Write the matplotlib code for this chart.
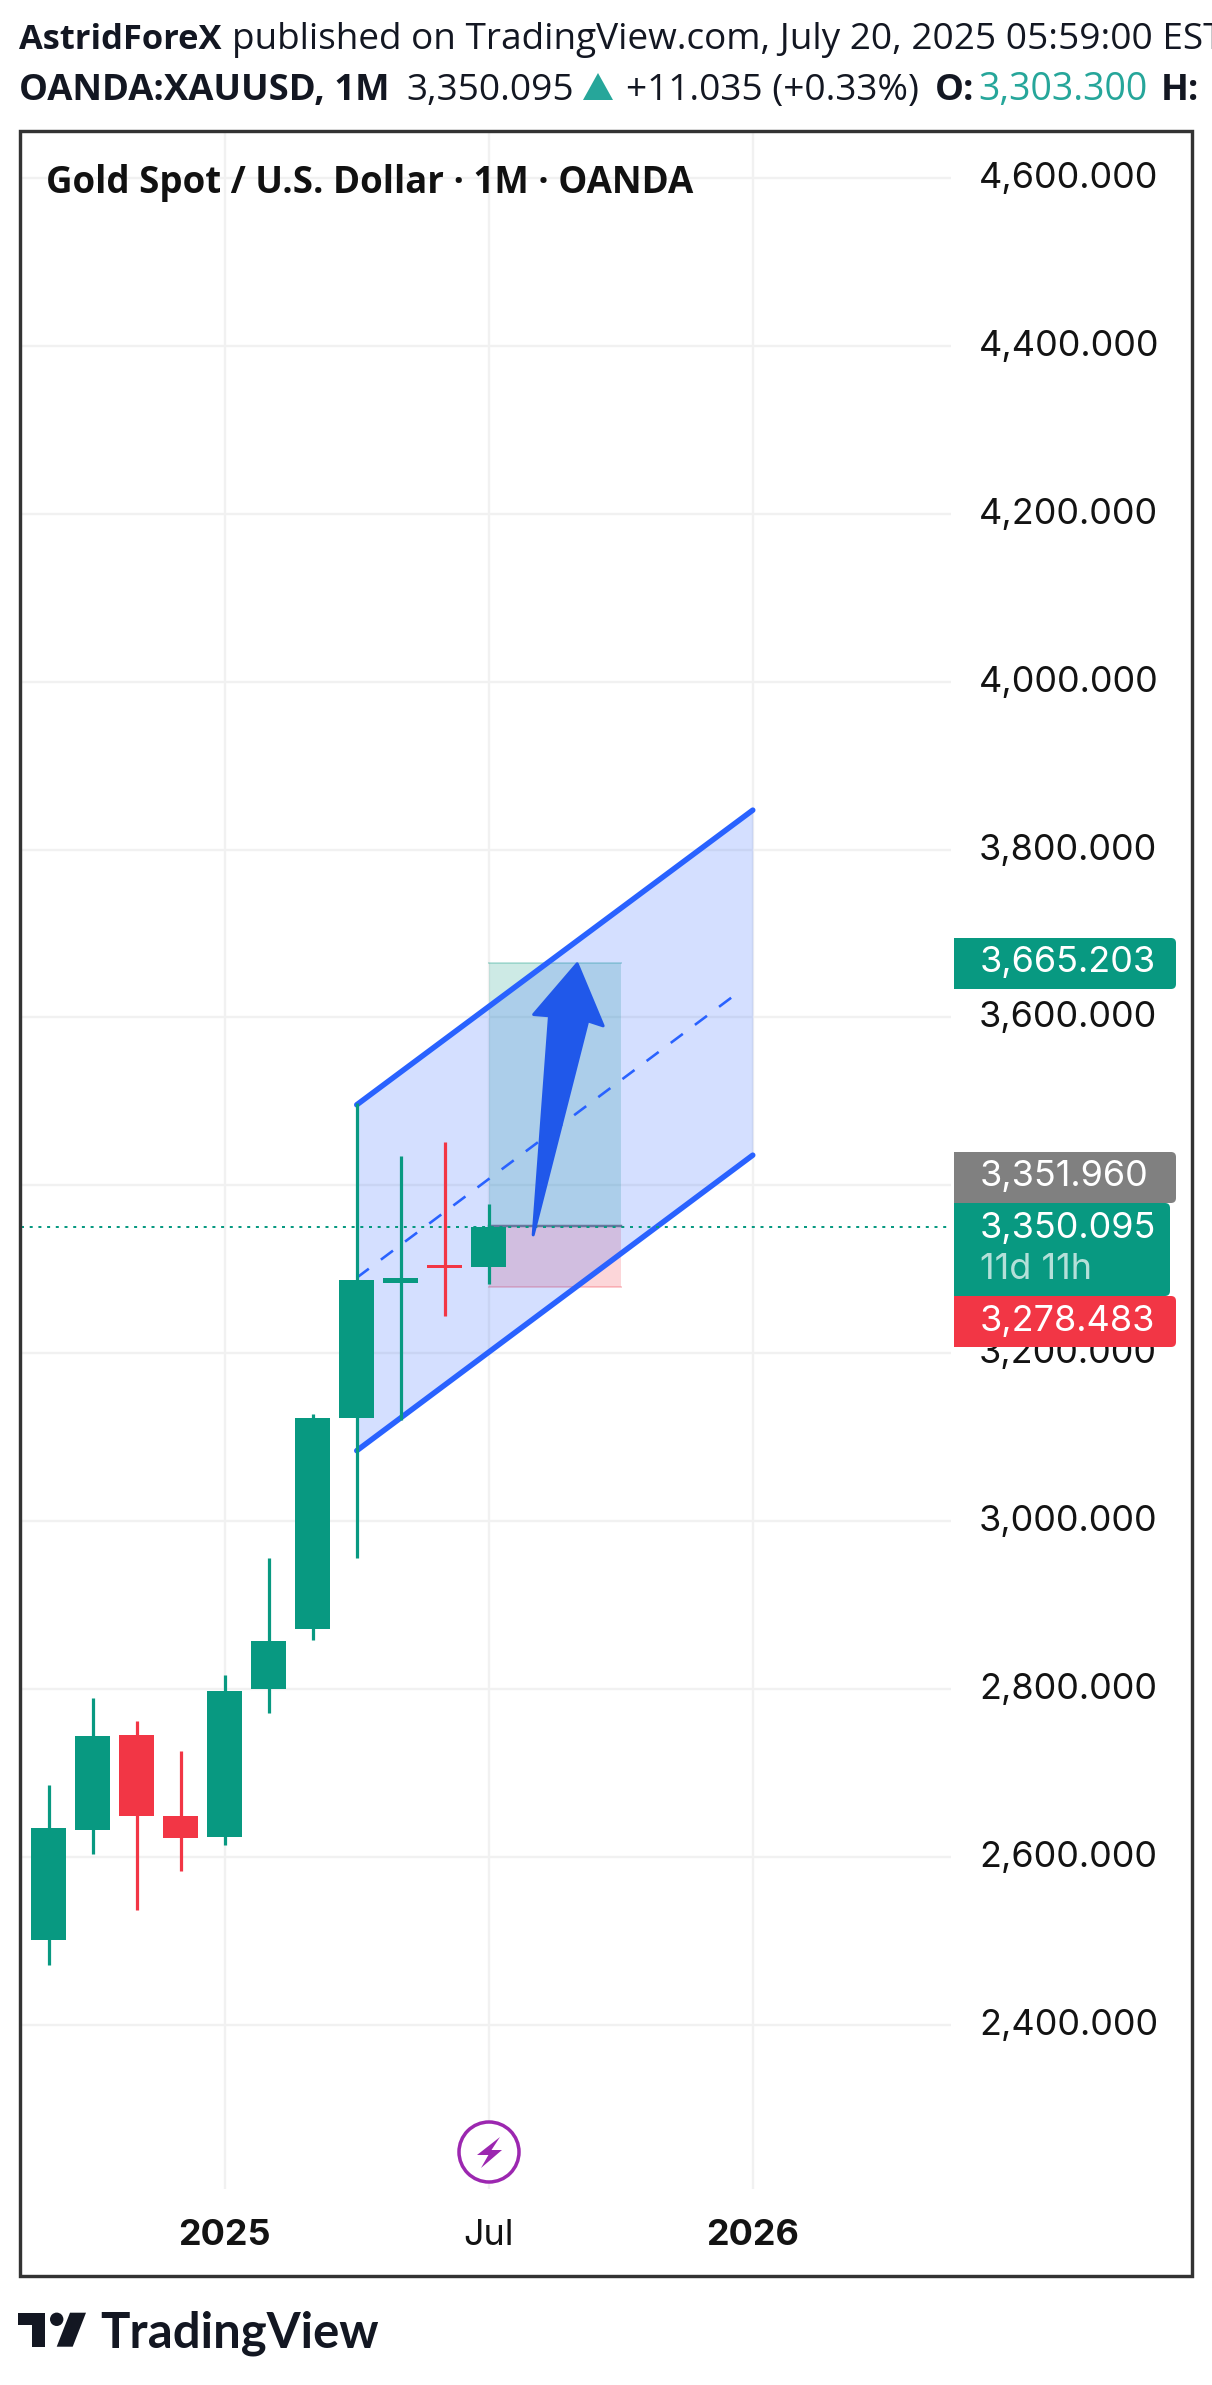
import matplotlib
matplotlib.use("Agg")
import matplotlib.pyplot as plt
from matplotlib.patches import Circle, FancyBboxPatch, Polygon, Rectangle
from matplotlib.transforms import ScaledTranslation

W, H = 1212, 2385
UP = "#089981"
DOWN = "#f23645"
BLUE = "#2962ff"
INK = "#131722"
GRID = "#f1f1f1"
FONT = "Open Sans"

# monthly candles, index 0 = Sep 2024
opens = [2501, 2632, 2745, 2649, 2624, 2800, 2872, 3123.5, 3284, 3305, 3303.3]
highs = [2686, 2789, 2762, 2726, 2817, 2956, 3128, 3498, 3435, 3452, 3378]
lows = [2471, 2604, 2537, 2583, 2614, 2771.5, 2858.5, 2956, 3121, 3244, 3282.5]
closes = [2634.5, 2744, 2649, 2623, 2798, 2857, 3123, 3287, 3290, 3301, 3350.095]

price_ticks = [2400, 2600, 2800, 3000, 3200, 3400, 3600, 3800, 4000, 4200, 4400, 4600]
hidden_ticks = [3400]  # covered by the price tags in the original
time_ticks = [4, 10, 16]
time_labels = ["2025", "Jul", "2026"]

# parallel channel (bar index, price)
channel_x = [7, 16]
channel_upper = [3496, 3847]
channel_lower = [3084, 3436]
mid_x = [7, 15.7]
mid_y = [3290, 3631]

# long position tool
pos_x = [10, 13]
pos_target = 3665.203
pos_entry = 3351.96
pos_stop = 3278.483

# hand drawn arrow
arrow_x = [11.01, 11.38, 11.02, 12.01, 12.6, 12.25]
arrow_y = [3341, 3602, 3603.5, 3664, 3590, 3596]

last_price = 3350.095

fig = plt.figure(figsize=(W / 100, H / 100), dpi=100, facecolor="white")
px = 72 / 100  # one pixel in points

# --- chart pane ---
left, right, top, bottom = 21, 951, 133, 2189
ax = fig.add_axes([left / W, 1 - bottom / H, (right - left) / W, (bottom - top) / H])
ax.set_xlim(-0.63, 20.505)
ax.set_ylim(2204.5, 4653.6)
for s in ax.spines.values():
    s.set_visible(False)
ax.set_axisbelow(True)
ax.grid(True, color=GRID, linewidth=2.3 * px)

ax.set_yticks(price_ticks, ["" if p in hidden_ticks else f"{p:,.3f}" for p in price_ticks])
ax.yaxis.tick_right()
ax.tick_params(axis="y", length=0, pad=28 * px, labelsize=36 * px, labelcolor="#131313")
shift = ScaledTranslation(0, -10 / 100, fig.dpi_scale_trans)
for lab in ax.get_yticklabels():
    lab.set_fontfamily("Inter")
    lab.set_verticalalignment("baseline")
    lab.set_transform(lab.get_transform() + shift)

ax.set_xticks(time_ticks, time_labels)
ax.tick_params(axis="x", length=0, pad=30 * px, labelsize=36 * px, labelcolor="#131313")
for lab, txt in zip(ax.get_xticklabels(), time_labels):
    lab.set_fontfamily("Inter")
    lab.set_fontweight("bold" if txt != "Jul" else "normal")

# position tool
ax.fill_between(pos_x, pos_entry, pos_target, color=UP, alpha=0.2, linewidth=0, zorder=2)
ax.fill_between(pos_x, pos_stop, pos_entry, color=DOWN, alpha=0.2, linewidth=0, zorder=2)
ax.plot(pos_x, [pos_target] * 2, color=UP, alpha=0.25, lw=2 * px, zorder=2)
ax.plot(pos_x, [pos_stop] * 2, color=DOWN, alpha=0.25, lw=2 * px, zorder=2)
ax.plot(pos_x, [pos_entry] * 2, color="#787b86", lw=2.5 * px, zorder=2)

# channel
ax.fill_between(channel_x, channel_lower, channel_upper, color=BLUE, alpha=0.2, linewidth=0, zorder=3)
ax.plot(channel_x, channel_upper, color=BLUE, lw=5.5 * px, solid_capstyle="round", zorder=4)
ax.plot(channel_x, channel_lower, color=BLUE, lw=5.5 * px, solid_capstyle="round", zorder=4)
ax.plot(mid_x, mid_y, color=BLUE, lw=2.6 * px, dashes=(5.8, 5.8), zorder=4)

# candles
for i, (o, h, l, c) in enumerate(zip(opens, highs, lows, closes)):
    col = UP if c >= o else DOWN
    ax.vlines(i, l, h, color=col, lw=3.2 * px, zorder=5)
    ax.bar(i, abs(c - o), bottom=min(o, c), width=35 / 44, color=col, linewidth=0, zorder=5)

ax.axhline(last_price, color=UP, lw=2 * px, dashes=(1.5, 2.85), zorder=6)

ax.add_patch(Polygon(list(zip(arrow_x, arrow_y)), closed=True, facecolor="#2058ea",
                     edgecolor="#2058ea", lw=3 * px, joinstyle="round", zorder=7))

# --- page overlay in pixels ---
page = fig.add_axes([0, 0, 1, 1], facecolor="none")
page.set_xlim(0, W)
page.set_ylim(H, 0)
page.axis("off")

page.add_patch(Rectangle((19.5, 131), 1172.5, 2144.5, fill=False, edgecolor="#333333", lw=3.4 * px))


def tag(y0, y1, x1, color):
    # only the right corners are rounded
    box = FancyBboxPatch((930, y0), x1 - 930, y1 - y0, boxstyle="round,pad=0,rounding_size=5",
                         facecolor=color, edgecolor="none")
    page.add_patch(box)
    box.set_clip_path(Rectangle((954, y0), x1 - 954, y1 - y0, transform=page.transData))


tag(938, 989, 1176, UP)
tag(1152, 1203, 1176, "#808080")
tag(1296, 1347, 1176, DOWN)
tag(1203, 1296, 1170, UP)

inter = dict(family="Inter", fontsize=36 * px, va="baseline")
page.text(980, 972, "3,665.203", color="white", **inter)
page.text(980, 1186, "3,351.960", color="white", **inter)
page.text(980, 1238, "3,350.095", color="white", **inter)
page.text(980, 1279, "11d 11h", color="white", alpha=0.7, **inter)
page.text(980, 1331, "3,278.483", color="white", **inter)

# header
def head(x, y, s, size=37, weight="normal", color=INK):
    page.text(x, y, s, family=FONT, fontsize=size * px, fontweight=weight, va="baseline", color=color)


head(19, 49, "AstridForeX", size=34.5, weight="bold")
head(232, 49, "published on TradingView.com, July 20, 2025 05:59:00 EST")
head(19, 100, "OANDA:XAUUSD, 1M", size=36.5, weight="bold")
head(406, 100, "3,350.095")
page.add_patch(Polygon([(583, 100), (613, 100), (598, 73)], facecolor="#26a69a", edgecolor="none"))
head(626, 100, "+11.035 (+0.33%)")
head(935, 100, "O:", size=36.5, weight="bold")
head(978, 100, "3,303.300", size=37.5, color="#26a69a")
head(1161, 100, "H:", size=36.5, weight="bold")

head(46, 193, "Gold Spot / U.S. Dollar · 1M · OANDA", size=36.6, weight="bold", color="#111111")

# lightning marker
page.add_patch(Circle((489, 2152), 30, facecolor="white", edgecolor="#9c27b0", lw=3.5 * px))
page.add_patch(Polygon([(500, 2137), (477, 2155), (488.4, 2155), (481, 2168), (502, 2150), (491.5, 2150)],
                       facecolor="#9c27b0", edgecolor="none"))

# logo
page.add_patch(Polygon([(18, 2312.7), (45, 2312.7), (45, 2346.7), (31.7, 2346.7), (31.7, 2324.7), (18, 2324.7)],
                       facecolor=INK, edgecolor="none"))
page.add_patch(Circle((56.7, 2319.3), 6.7, facecolor=INK, edgecolor="none"))
page.add_patch(Polygon([(70, 2312.7), (86, 2312.7), (72.7, 2346.7), (56.7, 2346.7)], facecolor=INK, edgecolor="none"))
page.text(100, 2347, "TradingView", family="Lato", fontweight="bold", fontsize=49 * px, va="baseline", color=INK)

fig.savefig("out.png", dpi=100)
